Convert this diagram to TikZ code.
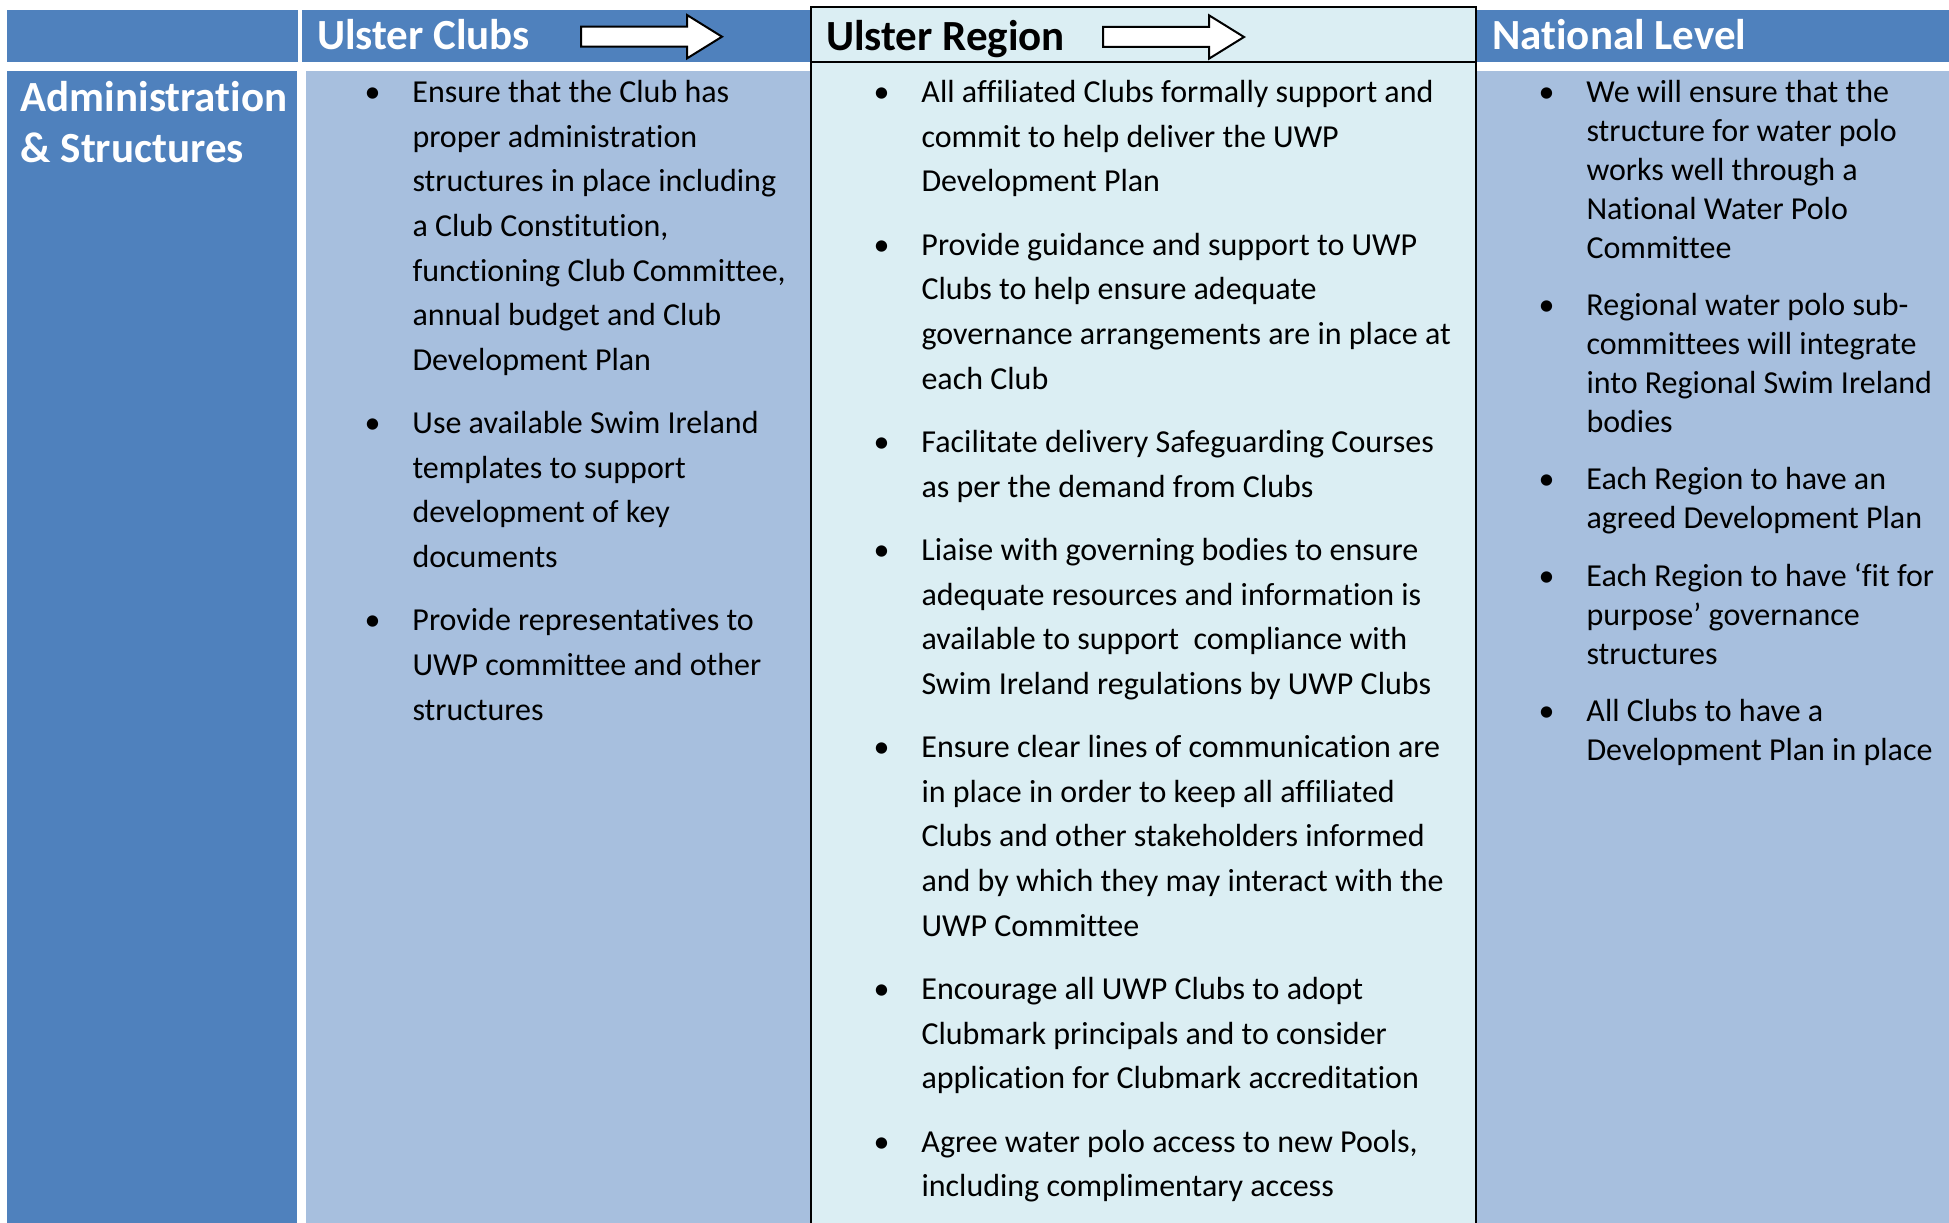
\documentclass[tikz,border=0pt]{standalone}
\usepackage{fontspec}
\setmainfont{Carlito}[Ligatures=NoCommon]
\usetikzlibrary{positioning}
\definecolor{darkhue}{RGB}{79,129,189}
\definecolor{lighthue}{RGB}{167,191,222}
\definecolor{regionhue}{RGB}{219,238,243}
\newcommand{\bul}{\llap{\makebox[0pt][c]{\textbullet}\hspace{40pt}}\strut}

\begin{document}
\begin{tikzpicture}[x=1pt,y=1pt,
    node distance=18.8pt,
    hdtext/.style={anchor=base west, inner sep=0pt, font=\fontsize{43}{51}\selectfont\bfseries},
    item/.style={anchor=north west, inner sep=0pt, outer sep=0pt, align=left, font=\fontsize{32}{44.6}\selectfont},
    natitem/.style={item, font=\fontsize{32}{38.85}\selectfont},
    hdarrow/.style={draw=black, line width=2pt, fill=white, line join=miter}]
    \useasboundingbox (0,0) rectangle (1949,-1223);
    % header band and columns
    \fill[darkhue] (7,-10) rectangle (298,-62);
    \fill[darkhue] (302,-10) rectangle (811,-62);
    \fill[darkhue] (1477,-10) rectangle (1949,-62);
    \fill[darkhue] (7,-71) rectangle (297,-1223);
    \fill[lighthue] (306,-71) rectangle (811,-1223);
    \fill[lighthue] (1477,-71) rectangle (1949,-1223);
    \filldraw[fill=regionhue, draw=black, line width=1.8pt] (811,-1226) -- (811,-7) -- (1476,-7) -- (1476,-1226);
    \draw[line width=1.8pt] (811,-62) -- (1476,-62);
    \foreach \p in {(581,-36.7),(1103,-37)}
        \draw[hdarrow] \p ++(0,10) -- ++(106,0) -- ++(0,11.7) -- ++(35,-21.7) -- ++(-35,-21.7) -- ++(0,11.7) -- ++(-106,0) -- cycle;

    \node[hdtext, text=white] (clubs) at (317,-49.8) {Ulster Clubs};
    \node[hdtext] (region) at (826,-50.3) {Ulster Region};
    \node[hdtext, text=white] (national) at (1492,-49.8) {National Level};
    \node[hdtext, anchor=north west, align=left, text=white] (admin) at (20.5,-76) {\strut Administration\\\& Structures\strut};

    % Ulster Clubs
    \node[item] (c1) at (412.5,-71.5) {\bul Ensure that the Club has\\proper administration\\structures in place including\\a Club Constitution,\\functioning Club Committee,\\annual budget and Club\\Development Plan\strut};
    \node[item, below=of c1.south west, anchor=north west] (c2) {\bul Use available Swim Ireland\\templates to support\\development of key\\documents\strut};
    \node[item, below=of c2.south west, anchor=north west] (c3) {\bul Provide representatives to\\UWP committee and other\\structures\strut};

    % Ulster Region
    \node[item] (r1) at (921.5,-71.5) {\bul All affiliated Clubs formally support and\\commit to help deliver the UWP\\Development Plan\strut};
    \node[item, below=of r1.south west, anchor=north west] (r2) {\bul Provide guidance and support to UWP\\Clubs to help ensure adequate\\governance arrangements are in place at\\each Club\strut};
    \node[item, below=of r2.south west, anchor=north west] (r3) {\bul Facilitate delivery Safeguarding Courses\\as per the demand from Clubs\strut};
    \node[item, below=of r3.south west, anchor=north west] (r4) {\bul Liaise with governing bodies to ensure\\adequate resources and information is\\available to support\ \ compliance with\\Swim Ireland regulations by UWP Clubs\strut};
    \node[item, below=of r4.south west, anchor=north west] (r5) {\bul Ensure clear lines of communication are\\in place in order to keep all affiliated\\Clubs and other stakeholders informed\\and by which they may interact with the\\UWP Committee\strut};
    \node[item, below=of r5.south west, anchor=north west] (r6) {\bul Encourage all UWP Clubs to adopt\\Clubmark principals and to consider\\application for Clubmark accreditation\strut};
    \node[item, below=of r6.south west, anchor=north west] (r7) {\bul Agree water polo access to new Pools,\\including complimentary access\strut};

    % National Level
    \node[natitem] (n1) at (1586.5,-75.5) {\bul We will ensure that the\\structure for water polo\\works well through a\\National Water Polo\\Committee\strut};
    \node[natitem, below=of n1.south west, anchor=north west] (n2) {\bul Regional water polo sub-\\committees will integrate\\into Regional Swim Ireland\\bodies\strut};
    \node[natitem, below=of n2.south west, anchor=north west] (n3) {\bul Each Region to have an\\agreed Development Plan\strut};
    \node[natitem, below=of n3.south west, anchor=north west] (n4) {\bul Each Region to have ‘fit for\\purpose’ governance\\structures\strut};
    \node[natitem, below=of n4.south west, anchor=north west] (n5) {\bul All Clubs to have a\\Development Plan in place\strut};
\end{tikzpicture}
\end{document}
